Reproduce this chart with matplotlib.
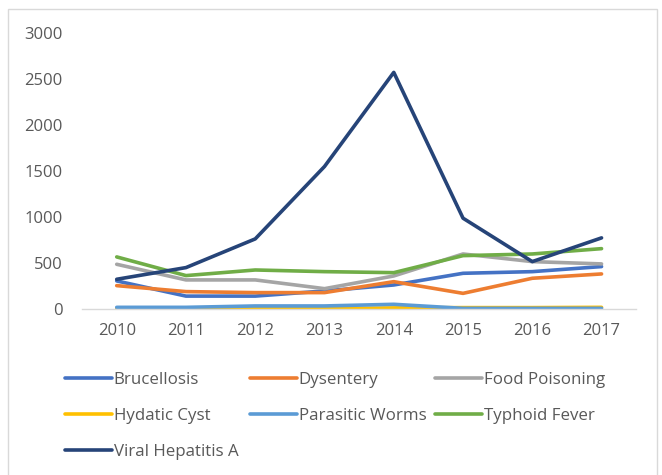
import matplotlib.pyplot as plt
from matplotlib.patches import Rectangle

plt.rcParams['font.family'] = ['Open Sans', 'DejaVu Sans']

years = ['2010', '2011', '2012', '2013', '2014', '2015', '2016', '2017']
brucellosis = [305, 140, 140, 196, 261, 388, 406, 461]
dysentery = [254, 189, 178, 178, 297, 170, 334, 381]
food_poisoning = [486, 316, 316, 221, 359, 598, 515, 490]
hydatic_cyst = [2, 2, 3, 3, 12, 15, 15, 18]
parasitic_worms = [18, 18, 33, 33, 51, 7, 7, 7]
typhoid_fever = [566, 363, 424, 406, 395, 580, 598, 656]
viral_hepatitis_a = [323, 450, 762, 1549, 2572, 987, 515, 773]

series = [
    ('Brucellosis', brucellosis, '#4472C4'),
    ('Dysentery', dysentery, '#ED7D31'),
    ('Food Poisoning', food_poisoning, '#A5A5A5'),
    ('Hydatic Cyst', hydatic_cyst, '#FFC000'),
    ('Parasitic Worms', parasitic_worms, '#5B9BD5'),
    ('Typhoid Fever', typhoid_fever, '#70AD47'),
    ('Viral Hepatitis A', viral_hepatitis_a, '#264478'),
]

fig = plt.figure(figsize=(6.62, 4.75), dpi=100)
ax = fig.add_axes([0.124, 0.3495, 0.837, 0.581])

x = range(len(years))
handles = []
for name, vals, color in series:
    line, = ax.plot(x, vals, color=color, linewidth=2.6, label=name,
                    solid_capstyle='round', solid_joinstyle='round')
    handles.append(line)

ax.set_xlim(-0.5, len(years) - 0.5)
ax.set_ylim(0, 3000)
ax.set_yticks([0, 500, 1000, 1500, 2000, 2500, 3000])
ax.set_xticks(list(x))
ax.set_xticklabels(years)
for side in ['top', 'right', 'left']:
    ax.spines[side].set_visible(False)
ax.spines['bottom'].set_color('#D9D9D9')
ax.spines['bottom'].set_linewidth(1.0)
ax.tick_params(length=0, labelsize=12, colors='#595959')
ax.tick_params(axis='y', pad=14)
ax.tick_params(axis='x', pad=10)

# outer chart border
fig.patches.append(Rectangle((8 / 662, -0.05), 649 / 662, 1 - 9 / 475 + 0.05,
                             transform=fig.transFigure, fill=False,
                             edgecolor='#D9D9D9', linewidth=1.0))

# legend, laid out row by row in three columns
cols = [[0, 3, 6], [1, 4], [2, 5]]
col_x = [65 / 662, 250 / 662, 435 / 662]
for xi, idx in zip(col_x, cols):
    leg = fig.legend([handles[i] for i in idx], [series[i][0] for i in idx],
                     loc='upper left', bbox_to_anchor=(xi, 1 - 372 / 475),
                     frameon=False, fontsize=12.2, handlelength=2.75,
                     handletextpad=0.12, labelspacing=1.18,
                     borderaxespad=0, borderpad=0)
    for t in leg.get_texts():
        t.set_color('#595959')

fig.savefig('out.png', dpi=100)
